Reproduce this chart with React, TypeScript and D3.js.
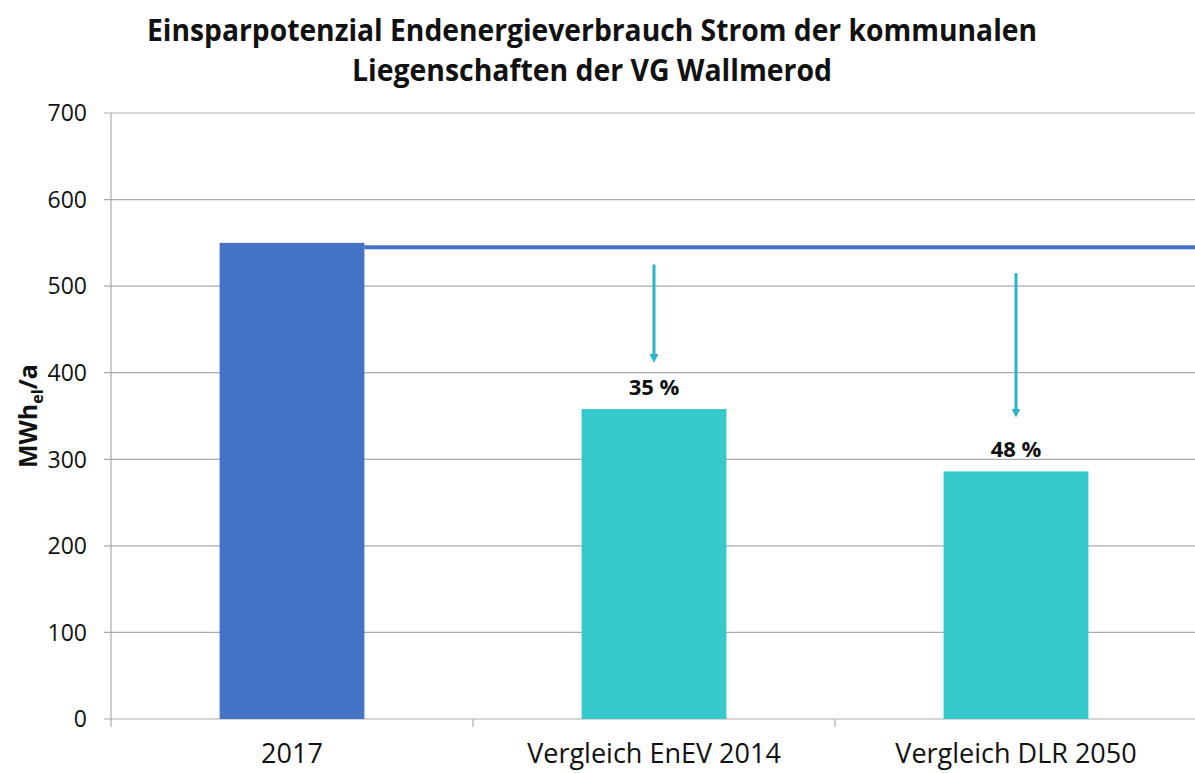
import * as d3 from "d3";

const categories = ["2017", "Vergleich EnEV 2014", "Vergleich DLR 2050"];
const values = [550, 358, 286];
const barColors = ["#4472C4", "#36C9CB", "#36C9CB"];
const percentLabels = ["", "35 %", "48 %"];
const arrowFrom = [null, 525, 515];
const arrowTo = [null, 413, 350];
const referenceValue = 545;
const yTicks = [0, 100, 200, 300, 400, 500, 600, 700];
const titleLines = [
  "Einsparpotenzial Endenergieverbrauch Strom der kommunalen",
  "Liegenschaften der VG Wallmerod",
];

const W = 1195;
const H = 773;
const margin = { top: 113, right: -2, bottom: 54, left: 111 };
const font = "'Open Sans', 'DejaVu Sans', sans-serif";

export default function App() {
  const x = d3
    .scaleBand<string>()
    .domain(categories)
    .range([margin.left, W - margin.right])
    .paddingInner(0.6)
    .paddingOuter(0.3);
  const y = d3
    .scaleLinear()
    .domain([0, 700])
    .range([H - margin.bottom, margin.top]);

  const step = x.step();
  const x0 = margin.left;
  const x1 = W - margin.right;
  const boundaries = d3.range(categories.length + 1).map((i) => x0 + i * step);

  return (
    <svg
      width={W}
      height={H}
      style={{ position: "absolute", left: 0, top: 0, background: "#fff" }}
      fontFamily={font}
    >
      <defs>
        <marker
          id="head"
          viewBox="0 0 10 10"
          refX="5"
          refY="5"
          markerWidth="3"
          markerHeight="3"
          orient="auto"
        >
          <path d="M0,0 L10,5 L0,10 z" fill="#2DB3C9" />
        </marker>
      </defs>

      {titleLines.map((line, i) => (
        <text
          key={line}
          x={592}
          y={41 + i * 40}
          textAnchor="middle"
          fontSize={30}
          fontWeight="bold"
          fill="#111"
          textLength={i === 0 ? 890 : 480}
          lengthAdjust="spacingAndGlyphs"
        >
          {line}
        </text>
      ))}

      {/* grid */}
      {yTicks.map((t) => (
        <g key={t}>
          <line x1={x0 - 7} x2={x1} y1={y(t)} y2={y(t)} stroke="#ABABAB" strokeWidth={1.2} />
          <text x={x0 - 24} y={y(t)} dy="0.36em" textAnchor="end" fontSize={23} fill="#111">
            {t}
          </text>
        </g>
      ))}
      <line x1={x0} x2={x0} y1={y(700)} y2={y(0) + 8} stroke="#ABABAB" strokeWidth={1.2} />
      {boundaries.slice(1).map((b) => (
        <line key={b} x1={b} x2={b} y1={y(0)} y2={y(0) + 8} stroke="#ABABAB" strokeWidth={1.2} />
      ))}

      {/* bars */}
      {categories.map((c, i) => (
        <rect
          key={c}
          x={x(c)}
          y={y(values[i])}
          width={x.bandwidth()}
          height={y(0) - y(values[i])}
          fill={barColors[i]}
        />
      ))}

      {/* reference line */}
      <line
        x1={(x(categories[0]) ?? 0) + x.bandwidth()}
        x2={x1}
        y1={y(referenceValue)}
        y2={y(referenceValue)}
        stroke="#4472C4"
        strokeWidth={4}
      />

      {/* arrows and percentages */}
      {categories.map((c, i) => {
        const cx = (x(c) ?? 0) + x.bandwidth() / 2;
        const from = arrowFrom[i];
        const to = arrowTo[i];
        return (
          <g key={c}>
            {from != null && to != null && (
              <line
                x1={cx}
                x2={cx}
                y1={y(from)}
                y2={y(to) - 3}
                stroke="#2DB3C9"
                strokeWidth={3}
                markerEnd="url(#head)"
              />
            )}
            {percentLabels[i] && (
              <text
                x={cx}
                y={y(values[i]) - 14}
                textAnchor="middle"
                fontSize={22}
                fontWeight="bold"
                fill="#111"
              >
                {percentLabels[i]}
              </text>
            )}
            <text x={cx} y={y(0) + 44} textAnchor="middle" fontSize={27} fill="#111">
              {c}
            </text>
          </g>
        );
      })}

      {/* y axis title */}
      <text
        transform={`translate(37,${(y(0) + y(700)) / 2}) rotate(-90)`}
        textAnchor="middle"
        fontSize={25}
        fontWeight="bold"
        fill="#111"
      >
        MWh
        <tspan fontSize={16} dy={6}>
          el
        </tspan>
        <tspan dy={-6}>/a</tspan>
      </text>
    </svg>
  );
}
